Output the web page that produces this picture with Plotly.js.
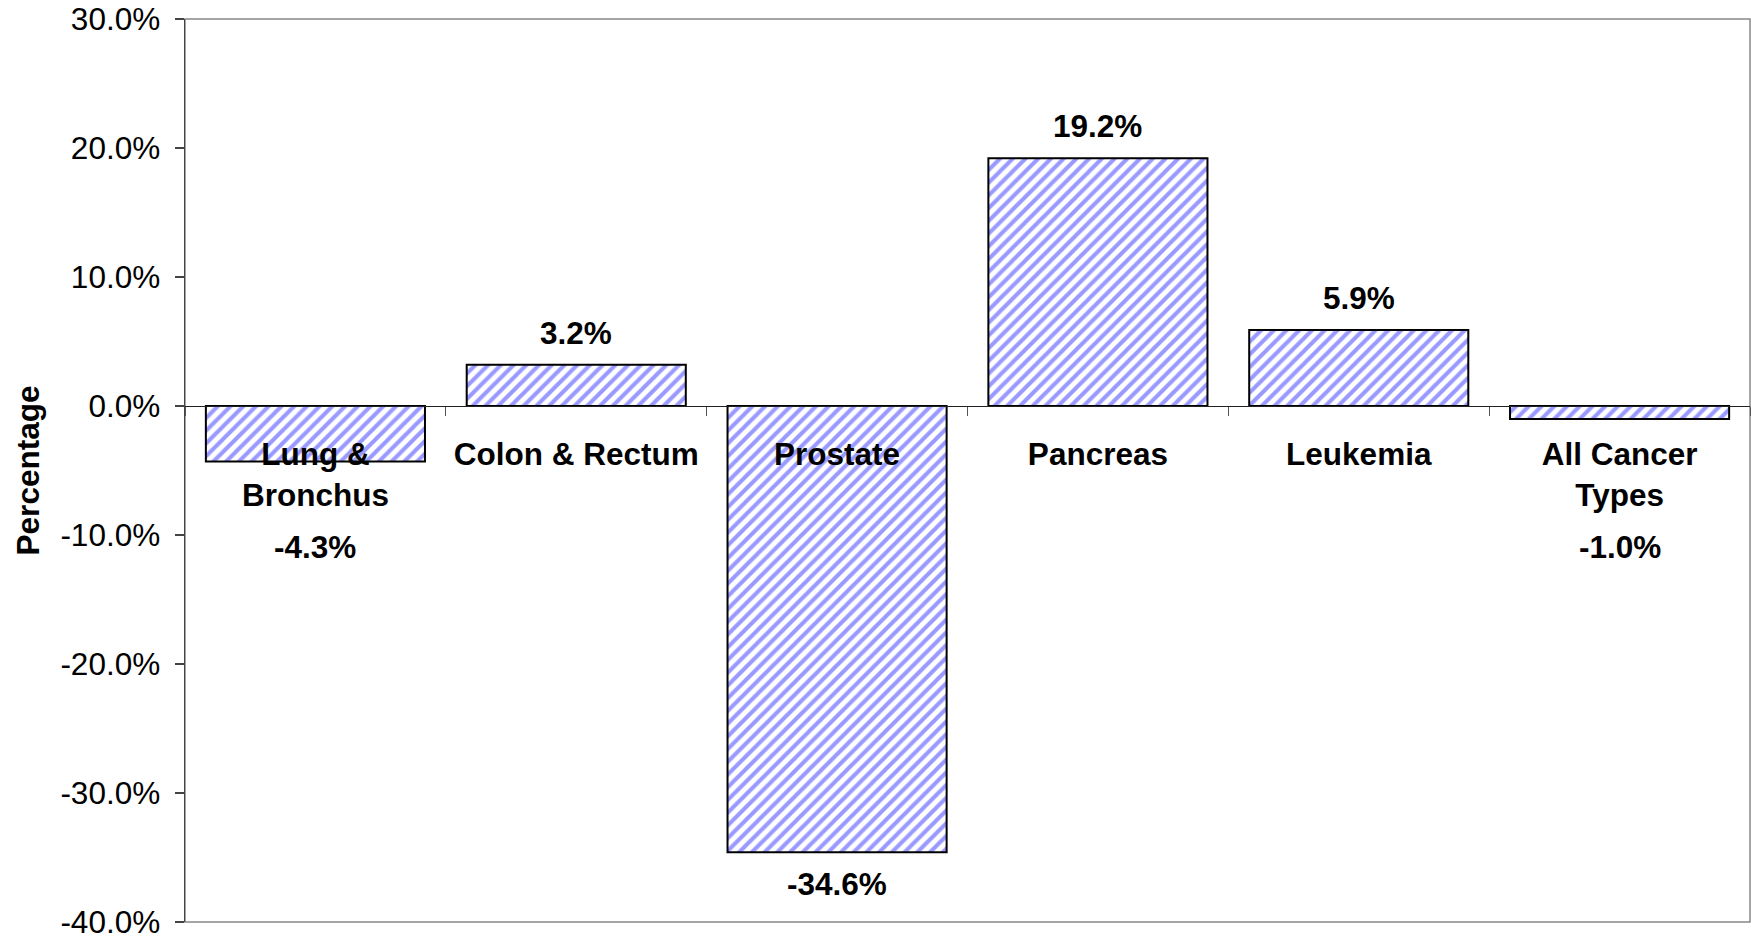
<!DOCTYPE html>
<html>
<head>
<meta charset="utf-8">
<script src="https://cdn.plot.ly/plotly-3.0.1.min.js"></script>
<style>
  html, body { margin: 0; padding: 0; background: #fff; }
  #chart { width: 1751px; height: 941px; }
</style>
</head>
<body>
<div id="chart"></div>
<script>
// ---- data ----
const categories = ["Lung &<br>Bronchus", "Colon & Rectum", "Prostate", "Pancreas", "Leukemia", "All Cancer<br>Types"];
const values = [-4.3, 3.2, -34.6, 19.2, 5.9, -1.0];
const valueLabels = ["-4.3%", "3.2%", "-34.6%", "19.2%", "5.9%", "-1.0%"];
const yTickVals = [-40, -30, -20, -10, 0, 10, 20, 30];
const yTickLabels = ["-40.0%", "-30.0%", "-20.0%", "-10.0%", "0.0%", "10.0%", "20.0%", "30.0%"];
const yRange = [-40, 30];

const FONT = "Liberation Sans, Arial, sans-serif";
const FS = 31.5;

const trace = {
  type: "bar",
  x: categories,
  y: values,
  marker: {
    color: "#ffffff",
    line: { color: "#000000", width: 2 },
    pattern: { shape: "/", fgcolor: "#9999ff", bgcolor: "#ffffff", size: 9, solidity: 0.45 }
  },
  hoverinfo: "skip",
  showlegend: false
};

const annotations = values.map((v, i) => {
  let y = v, shift;
  if (v >= 0) shift = 32;
  else if (v > -10) { y = 0; shift = -141; }
  else shift = -32;
  return {
    x: categories[i], y: y, xref: "x", yref: "y",
    text: "<b>" + valueLabels[i] + "</b>",
    showarrow: false, yanchor: "middle", xanchor: "center", yshift: shift,
    font: { family: FONT, size: FS, color: "#000" }
  };
});

const zeroPos = (0 - yRange[0]) / (yRange[1] - yRange[0]);

const layout = {
  width: 1751, height: 941,
  margin: { l: 185, r: 1, t: 19, b: 19 },
  paper_bgcolor: "#ffffff", plot_bgcolor: "#ffffff",
  bargap: 0.16,
  font: { family: FONT, size: FS, color: "#000" },
  xaxis: {
    type: "category",
    anchor: "free", position: zeroPos,
    showline: true, linecolor: "#222", linewidth: 1,
    ticks: "outside", tickson: "boundaries", ticklen: 9, tickcolor: "#555", tickwidth: 1,
    showgrid: false, zeroline: false,
    tickfont: { family: FONT, size: FS, color: "#000", weight: "bold" },
    ticklabelstandoff: 20,
    fixedrange: true
  },
  yaxis: {
    domain: [0, 1],
    range: yRange,
    tickmode: "array", tickvals: yTickVals, ticktext: yTickLabels,
    ticks: "outside", ticklen: 9, tickcolor: "#444", tickwidth: 1.5,
    showline: true, linecolor: "#444", linewidth: 1.5,
    showgrid: false, zeroline: false,
    tickfont: { family: FONT, size: FS, color: "#000" },
    ticklabelstandoff: 8,
    ticklabeloverflow: "allow",
    title: { text: "<b>Percentage</b>", font: { family: FONT, size: FS, color: "#000" }, standoff: 11 },
    fixedrange: true
  },
  shapes: [{
    type: "rect", xref: "paper", yref: "paper", x0: 0, x1: 1, y0: 0, y1: 1,
    line: { color: "#888888", width: 1.5 }, layer: "below"
  }],
  annotations: annotations
};

Plotly.newPlot("chart", [trace], layout, { displayModeBar: false, staticPlot: true });
</script>
</body>
</html>
